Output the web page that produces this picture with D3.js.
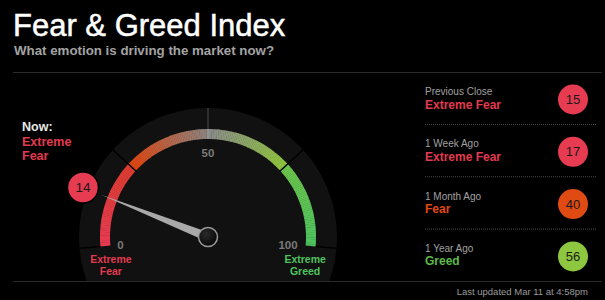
<!DOCTYPE html>
<html><head><meta charset="utf-8">
<script src="https://cdn.jsdelivr.net/npm/d3@7"></script>
<style>
html,body{margin:0;padding:0;background:#000;}
svg{display:block;font-family:"Liberation Sans",Arial,sans-serif;}
</style></head>
<body><svg id="c" width="605" height="300"></svg>
<script>
// ---- data ----
const titleText = "Fear & Greed Index";
const subtitleText = "What emotion is driving the market now?";
const nowValue = 14;
const nowRating = "Extreme Fear";
const gaugeTicks = [0, 50, 100];
const segmentBreaks = [0, 25, 50, 75, 100];
const endLabels = ["Extreme Fear", "Extreme Greed"];
const historyLabels = ["Previous Close", "1 Week Ago", "1 Month Ago", "1 Year Ago"];
const historyValues = [15, 17, 40, 56];
const historyRatings = ["Extreme Fear", "Extreme Fear", "Fear", "Greed"];
const updatedText = "Last updated Mar 11 at 4:58pm";

const ratingText = {"Extreme Fear":"#e23a4f","Fear":"#e14812","Greed":"#5cbb48","Extreme Greed":"#4fc35e"};
const ratingFill = {"Extreme Fear":"#e63b50","Fear":"#e04a13","Greed":"#8dc63f","Extreme Greed":"#4fc35e"};
// gradient colours per segment [start, end]
const segColors = [["#e83a52","#db3d30"],["#e0450f","#8a8380"],["#8a8a8a","#8fc63b"],["#6cc34b","#4dc35f"]];

const svg = d3.select("#c");
svg.append("rect").attr("width",605).attr("height",300).attr("fill","#000");

// header
svg.append("text").attr("x",13).attr("y",36).attr("fill","#fff")
  .attr("stroke","#fff").attr("stroke-width",0.5)
  .attr("font-size",31).text(titleText);
svg.append("text").attr("x",14).attr("y",55).attr("fill","#a3a3a3")
  .attr("font-size",13.3).attr("font-weight","bold").text(subtitleText);
svg.append("line").attr("x1",13).attr("x2",602).attr("y1",72.5).attr("y2",72.5)
  .attr("stroke","#2a2a2a").attr("stroke-width",1);
svg.append("line").attr("x1",13).attr("x2",602).attr("y1",281.5).attr("y2",281.5)
  .attr("stroke","#2a2a2a").attr("stroke-width",1);

// gauge
const cx = 208, cy = 237;
const ang = d3.scaleLinear().domain([0,100]).range([-95*Math.PI/180, 95*Math.PI/180]);
const pt = (v,r) => [cx + r*Math.sin(ang(v)), cy - r*Math.cos(ang(v))];

svg.append("clipPath").attr("id","clipG").append("rect").attr("x",0).attr("y",0).attr("width",605).attr("height",281);
const g = svg.append("g").attr("clip-path","url(#clipG)");
g.append("circle").attr("cx",cx).attr("cy",cy).attr("r",129).attr("fill","#111");

// colored band built from small slices
const band = d3.arc().innerRadius(98).outerRadius(108);
const steps = d3.range(0, 100, 0.5);
steps.forEach(v => {
  const si = Math.min(3, Math.floor(v/25));
  const c = d3.interpolateRgb(segColors[si][0], segColors[si][1])((v - segmentBreaks[si])/25);
  g.append("path").attr("transform",`translate(${cx},${cy})`)
    .attr("d", band({startAngle: ang(v), endAngle: ang(Math.min(100, v+0.6))}))
    .attr("fill", c);
});

// segment separators
segmentBreaks.forEach(v => {
  const mid = v === 50;
  const inner = (v === 0 || v === 100) ? 108 : (mid ? 108 : 97);
  const [x1,y1] = pt(v, inner), [x2,y2] = pt(v, 129);
  g.append("line").attr("x1",x1).attr("y1",y1).attr("x2",x2).attr("y2",y2)
    .attr("stroke", mid ? "#3a3a3a" : "#000").attr("stroke-width",1.5);
  if (mid) {
    const [a1,b1] = pt(v,98);
    g.append("line").attr("x1",a1).attr("y1",b1).attr("x2",x1).attr("y2",y1)
      .attr("stroke","#9a9a9a").attr("stroke-width",1.2);
  }
});

// tick labels
gaugeTicks.forEach(v => {
  const [x,y] = pt(v, v===50 ? 84 : 88);
  g.append("text").attr("x", v===100 ? x+2 : x).attr("y", y).attr("dy","0.35em")
    .attr("text-anchor", v===100 ? "end" : "middle")
    .attr("fill","#7a7a7a").attr("font-size",11.5).attr("font-weight","bold").text(v);
});

// end labels
[0,100].forEach((v,i) => {
  const [x] = pt(v, 97.5);
  const words = endLabels[i].split(" ");
  words.forEach((w,j) => {
    svg.append("text").attr("x",x).attr("y",263 + j*12).attr("text-anchor","middle")
      .attr("fill", ratingText[endLabels[i]]).attr("font-size",10.5).attr("font-weight","bold").text(w);
  });
});

// needle
const defs = svg.append("defs");
const pg = defs.append("radialGradient").attr("id","piv").attr("cx","40%").attr("cy","35%").attr("r","70%");
pg.append("stop").attr("offset","0%").attr("stop-color","#2a2a2a");
pg.append("stop").attr("offset","100%").attr("stop-color","#050505");
{
  const a = ang(nowValue);
  const [tx,ty] = pt(nowValue, 115);
  const px = Math.cos(a), py = Math.sin(a);
  const w = 4.5;
  svg.append("path")
    .attr("d", `M${cx+px*w},${cy+py*w} L${tx},${ty} L${cx-px*w},${cy-py*w} Z`)
    .attr("fill","#a9a9a9");
  svg.append("circle").attr("cx",cx).attr("cy",cy).attr("r",9.5)
    .attr("fill","url(#piv)").attr("stroke","#9a9a9a").attr("stroke-width",1.5);
  const [bx,by] = pt(nowValue, 134.5);
  svg.append("circle").attr("cx",bx).attr("cy",by).attr("r",15.5)
    .attr("fill", ratingFill[nowRating]).attr("stroke","#000").attr("stroke-width",1.5);
  svg.append("text").attr("x",bx).attr("y",by).attr("dy","0.36em").attr("text-anchor","middle")
    .attr("fill","#1a1a1a").attr("font-size",13.5).text(nowValue);
}

// Now label
svg.append("text").attr("x",22).attr("y",131).attr("fill","#e8e8e8")
  .attr("font-size",12.5).attr("font-weight","bold").text("Now:");
nowRating.split(" ").forEach((w,j) => {
  svg.append("text").attr("x",22).attr("y",146 + j*14).attr("fill", ratingText[nowRating])
    .attr("font-size",12.5).attr("font-weight","bold").text(w);
});

// history panel
const rowY = d3.scaleLinear().domain([0,1]).range([0,52.3]);
historyLabels.forEach((lab,i) => {
  const y0 = 95 + rowY(i);
  svg.append("text").attr("x",425).attr("y",y0).attr("fill","#a0a0a0")
    .attr("font-size",10).text(lab);
  svg.append("text").attr("x",425).attr("y",y0+13.5).attr("fill", ratingText[historyRatings[i]])
    .attr("font-size",12).attr("font-weight","bold").text(historyRatings[i]);
  svg.append("circle").attr("cx",573).attr("cy",y0+4.5).attr("r",15)
    .attr("fill", ratingFill[historyRatings[i]]);
  svg.append("text").attr("x",573).attr("y",y0+4.5).attr("dy","0.36em").attr("text-anchor","middle")
    .attr("fill","#1a1a1a").attr("font-size",13).text(historyValues[i]);
  if (i < historyLabels.length - 1) {
    svg.append("line").attr("x1",425).attr("x2",597)
      .attr("y1", y0+29.5).attr("y2", y0+29.5)
      .attr("stroke","#4a4a4a").attr("stroke-width",1).attr("stroke-dasharray","1,1");
  }
});

svg.append("text").attr("x",588).attr("y",295).attr("text-anchor","end")
  .attr("fill","#9a9a9a").attr("font-size",9.5).text(updatedText);
</script></body></html>
